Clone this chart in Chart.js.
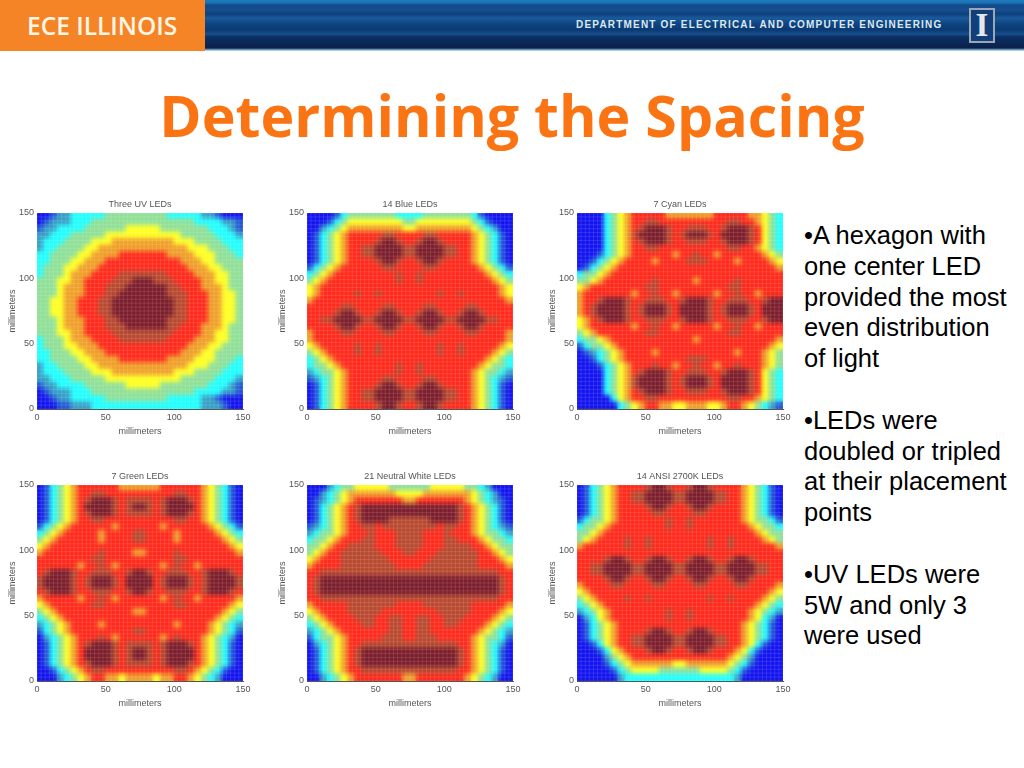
<!DOCTYPE html>
<html>
<head>
<meta charset="utf-8">
<title>Determining the Spacing</title>
<script src="https://cdn.jsdelivr.net/npm/chart.js@4"></script>
<style>
  html, body { margin: 0; padding: 0; background: #fff; overflow: hidden; }
  body { position: relative; width: 1024px; height: 768px; }
  #banner { position: absolute; left: 0; top: 0; width: 1024px; height: 51px;
    background: linear-gradient(180deg, #1c7cc0 0, #1c6fb0 3px, #0f4a8c 5px, #164f8f 10px, #0d3f7c 14px, #1a5a9c 18px, #0e437f 24px, #0b3a72 30px, #17508f 34px, #0a2f62 37px, #0a2a58 42px, #0b1f4a 48px, #7fb4d6 50px, #dcebf4 51px); }
  #orange { position: absolute; left: 0; top: 0; width: 205px; height: 51px; background: #f58426; }
  #brand { position: absolute; left: 27px; top: 8px; font: 600 25px "Open Sans", sans-serif; color: #fff6e6; white-space: nowrap; transform-origin: left top; transform: scaleX(0.98); }
  #dept { position: absolute; left: 576px; top: 19px; font: bold 10px "Liberation Sans", sans-serif; letter-spacing: 1.19px; color: #dce8f0; white-space: nowrap; }
  #logo { position: absolute; left: 969px; top: 8px; width: 22px; height: 31px; border: 2px solid #9aa8b4; background: #123f7c; color: #e4e8e8; font: bold 33px/31px "Liberation Serif", serif; text-align: center; }
  #heading { position: absolute; left: 0; top: 76px; width: 1024px; text-align: center; font: bold 57.3px "Open Sans", sans-serif; color: #fa7414; white-space: nowrap; }
  #notes { position: absolute; left: 804px; top: 220px; font: 25.5px/30.8px "Liberation Sans", sans-serif; color: #000; white-space: nowrap; }
  canvas { position: absolute; }
</style>
</head>
<body>
<div id="banner"></div>
<div id="orange"></div>
<div id="brand">ECE ILLINOIS</div>
<div id="dept">DEPARTMENT OF ELECTRICAL AND COMPUTER ENGINEERING</div>
<div id="logo">I</div>
<div id="heading">Determining the Spacing</div>
<div id="notes">•A hexagon with<br>one center LED<br>provided the most<br>even distribution<br>of light<br><br>•LEDs were<br>doubled or tripled<br>at their placement<br>points<br><br>•UV LEDs were<br>5W and only 3<br>were used</div>
<script>
// Cell centres in millimeters, one column per character of a row
const cellCentres = [2.5, 7.5, 12.5, 17.5, 22.5, 27.5, 32.5, 37.5, 42.5, 47.5, 52.5, 57.5, 62.5, 67.5, 72.5,
  77.5, 82.5, 87.5, 92.5, 97.5, 102.5, 107.5, 112.5, 117.5, 122.5, 127.5, 132.5, 137.5, 142.5, 147.5];
const axisTicks = [0, 50, 100, 150];
const chartTitles = ["Three UV LEDs", "14 Blue LEDs", "7 Cyan LEDs", "7 Green LEDs", "21 Neutral White LEDs", "14 ANSI 2700K LEDs"];

// Light level, top row first (0 = dimmest, 9 = brightest)
const levelColors = ["#1414f0", "#2458d8", "#38a0c8", "#22ffff", "#90e098", "#ffff22", "#f0a02a", "#ff2a1c", "#b84a30", "#7c1e2c"];

const uvRows = [
  "001223333344444444433333221000",
  "012223334444444444444443333221",
  "122333344444455555444444433321",
  "223334444455555555555444443332",
  "233344445556666666665554444333",
  "233444455666666666666655544433",
  "334444556666777777766665554443",
  "334445566677777777777666554444",
  "344455666777777777777766655444",
  "344456667777888888877776665544",
  "444556677778889998887777665544",
  "444566677788899999988777666544",
  "444566677788999999988877766554",
  "445566777889999999998877766554",
  "445566777889999999998877766554",
  "445566777889999999998877766554",
  "444566677788999999988877766554",
  "444566677788899999988777666544",
  "444556677778888888887777665544",
  "344456667777888888877776665544",
  "344455666777777777777766655444",
  "334445566677777777777666554444",
  "334444556666777777766665554443",
  "233444455666666666666655544433",
  "233344445556666666665554444333",
  "223334444455555555555444443332",
  "122333344444455555444444433321",
  "012223334444444444444443333221",
  "001223333344444444433333221000",
  "000112223333333333333333222100"
];

const blueRows = [
  "000013444444433334444444310000",
  "000134555555554455555555431000",
  "002345666666665566666666543200",
  "013456777778877778877777654310",
  "013456777789987789987777654310",
  "013456778899998899998877654310",
  "013456778899998899998877654310",
  "013456777789987789987777654310",
  "134567777778877778877777765431",
  "345677777777787787777777776543",
  "456777777777787787777777777654",
  "567777777777777777777777777765",
  "567777787787777777787787777765",
  "677777777777777777777777777776",
  "777778877778877778877778877777",
  "777789987789987789987789987777",
  "778899998899998899998899998877",
  "777789987789987789987789987777",
  "677778877778877778877778877776",
  "677777777777777777777777777776",
  "567777787787777777787787777765",
  "456777787787777777787787777654",
  "345677777777777777777777776543",
  "344567777777787787777777765443",
  "234456777777787787777777654432",
  "123456777778877778877777654321",
  "013456777789987789987777654310",
  "013456778899998899998877654310",
  "013456778899998899998877654310",
  "013456777789987789987777654310"
];

const cyanRows = [
  "000034567777766666667777766543",
  "000034567788777777777788776543",
  "000034567899987788877899987543",
  "000034568999987899987999987543",
  "000034567899987788877899987543",
  "000034567788777777777788776543",
  "000134567777776778776777777654",
  "001345677776777788877776777765",
  "013456777777777777777777777776",
  "344567777777777777777777777777",
  "445677777778777776777778777777",
  "567777777788777777777788777777",
  "677777776778776777776778776777",
  "677899987788877899987788877899",
  "678999987899987999987899987999",
  "678999987899987999987899987999",
  "567899987788877899987788877899",
  "567777776778776777776778776777",
  "456777777788777777777788777777",
  "344567777777777776777777777776",
  "134456777777777777777777777765",
  "012345677776777777777776777654",
  "001345677777777788877777777654",
  "000134567778776778776778777654",
  "000034567899987788877899987543",
  "000034568999987899987999987543",
  "000034568999987899987999987543",
  "000034567899987788877899987543",
  "000003567788777777777788776543",
  "000000345677665566655677654321"
];

const greenRows = [
  "013456777777666666777777654310",
  "013456778877777777778877654310",
  "013456789998788887899987654310",
  "013456799998789987899997654310",
  "013456789998788887899987654310",
  "013456778877777777778877654310",
  "134567777776777777677777765431",
  "345677777677778877776777776543",
  "456777777677778877776777777654",
  "567777777777777777777777777765",
  "677777777877776677778777777776",
  "777777778877777777778877777777",
  "777777677876777777678776777777",
  "789998778887789987788877899987",
  "899998789998799997899987899998",
  "899998789998799997899987899998",
  "789998778887789987788877899987",
  "677777677876777777678776777776",
  "567777778877777777778877777765",
  "456777777777776677777777777654",
  "345677777777777777777777776543",
  "234567777677777777776777765432",
  "134567777777778877777777765431",
  "023456777876777777678777654320",
  "013456789998788887899987654310",
  "013456799998789987899997654310",
  "013456799998789987899997654310",
  "013456789998788887899987654310",
  "001345678877777777778876543100",
  "000234567766566665667765432000"
];

const whiteRows = [
  "000234455555444444555554432000",
  "002345666666655556666666543200",
  "012345677777776677777776543210",
  "013456789999999999999987654310",
  "013456789999999999999987654310",
  "013456789999888888999987654310",
  "123456778878888888878877654321",
  "234456777877788887778777654432",
  "344567778877788887778877765443",
  "445677888877788887778888776544",
  "456778888887778877788888877654",
  "567778888888777777888888877765",
  "677778888888877778888888877776",
  "778888888888888888888888888877",
  "789999999999999999999999999987",
  "789999999999999999999999999987",
  "789999999999999999999999999987",
  "778888888888888888888888888877",
  "677777888888877778888888777776",
  "567777888887777777788888777765",
  "456777788877887788778887777654",
  "345677778877887788778877776543",
  "234567777777887788777777765432",
  "134456777778887788877777654431",
  "023456778888888888888877654320",
  "013456789999999999999987654310",
  "013456789999999999999987654310",
  "013456789999999999999987654310",
  "013456778888888888888877654310",
  "002345677777776677777776543200"
];

const warmRows = [
  "013456777789987789987777654310",
  "013456778899998899998877654310",
  "013456778899998899998877654310",
  "013456777789987789987777654310",
  "013456777778877778877777654310",
  "134456777777787787777777654431",
  "344567777777787787777777765443",
  "445677777777777777777777776544",
  "456777787787777777787787777654",
  "677777787787777777787787777776",
  "777777777777777777777777777777",
  "777789987789987789987789987777",
  "778899998899998899998899998877",
  "778899998899998899998899998877",
  "777789987789987789987789987777",
  "677778877778877778877778877776",
  "567777777777777777777777777765",
  "456777787787777777787787777654",
  "345677777777777777777777776543",
  "234567777777787787777777765432",
  "023567777777787787777777765320",
  "013456777777777777777777654310",
  "013456777789987789987777654310",
  "013456778899998899998877654310",
  "001356778899998899998877653100",
  "000135677789987789987776531000",
  "000024567777777777777765420000",
  "000013456666665566666654310000",
  "000001345555444444555543100000",
  "000000233333333333333332000000"
];

const allRows = [uvRows, blueRows, cyanRows, greenRows, whiteRows, warmRows];

// Turn text rows into scatter points, one square per cell
function rowsToPoints(rows) {
  const points = [];
  rows.forEach((row, r) => {
    [...row].forEach((ch, c) => {
      points.push({ x: cellCentres[c], y: cellCentres[cellCentres.length - 1 - r], level: Number(ch) });
    });
  });
  return points;
}

// Soften the coarse cells and put the fine surface mesh over them
const surfacePlugin = {
  id: "surface",
  afterDatasetsDraw(chart) {
    const { ctx, chartArea: a, scales } = chart;
    const w = a.right - a.left;
    const h = a.bottom - a.top;
    ctx.save();
    ctx.beginPath();
    ctx.rect(a.left, a.top, w, h);
    ctx.clip();
    ctx.filter = "blur(2px)";
    ctx.drawImage(chart.canvas, a.left, a.top, w, h, a.left, a.top, w, h);
    ctx.filter = "none";
    ctx.lineWidth = 0.6;
    ctx.strokeStyle = "rgba(255,255,255,0.2)";
    for (let mm = 0; mm <= 150; mm += 3) {
      const px = scales.x.getPixelForValue(mm);
      const py = scales.y.getPixelForValue(mm);
      ctx.beginPath();
      ctx.moveTo(px, a.top);
      ctx.lineTo(px, a.bottom);
      ctx.moveTo(a.left, py);
      ctx.lineTo(a.right, py);
      ctx.stroke();
    }
    ctx.restore();
  },
};

function axisOptions(fit, titlePad) {
  return {
    type: "linear",
    min: 0,
    max: 150,
    afterBuildTicks: (scale) => {
      scale.ticks = axisTicks.map((v) => ({ value: v }));
    },
    afterFit: fit,
    grid: { display: false, drawTicks: false },
    border: { display: true, color: "#555", width: 1 },
    ticks: { color: "#555", font: { family: "Liberation Sans", size: 9 }, padding: 3, maxRotation: 0, autoSkip: false },
    title: { display: true, text: "millimeters", color: "#555", font: { family: "Liberation Sans", size: 9 }, padding: { top: titlePad, bottom: 1 } },
  };
}

// Slots: left and top of each canvas
const slotLefts = [0, 270, 540];
const slotTops = [195, 467];

allRows.forEach((rows, i) => {
  const canvas = document.createElement("canvas");
  canvas.width = 270;
  canvas.height = 243;
  canvas.style.left = slotLefts[i % 3] + "px";
  canvas.style.top = slotTops[Math.floor(i / 3)] + "px";
  document.body.appendChild(canvas);

  new Chart(canvas.getContext("2d"), {
    type: "scatter",
    data: {
      datasets: [{
        data: rowsToPoints(rows),
        pointStyle: "rect",
        pointRadius: 6,
        pointBorderWidth: 0,
        backgroundColor: (ctx) => levelColors[ctx.raw.level],
      }],
    },
    options: {
      responsive: false,
      animation: false,
      devicePixelRatio: 1,
      layout: { autoPadding: false, padding: { left: 0, right: 27, top: 0, bottom: 0 } },
      scales: {
        x: axisOptions((s) => { s.height = 29; }, 1),
        y: axisOptions((s) => { s.width = 37; }, 7),
      },
      plugins: {
        legend: { display: false },
        tooltip: { enabled: false },
        title: {
          display: true,
          fullSize: false,
          text: chartTitles[i],
          color: "#555",
          font: { family: "Liberation Sans", size: 9, weight: "normal" },
          padding: { top: 4, bottom: 3.2 },
        },
      },
    },
    plugins: [surfacePlugin],
  });
});
</script>
</body>
</html>
